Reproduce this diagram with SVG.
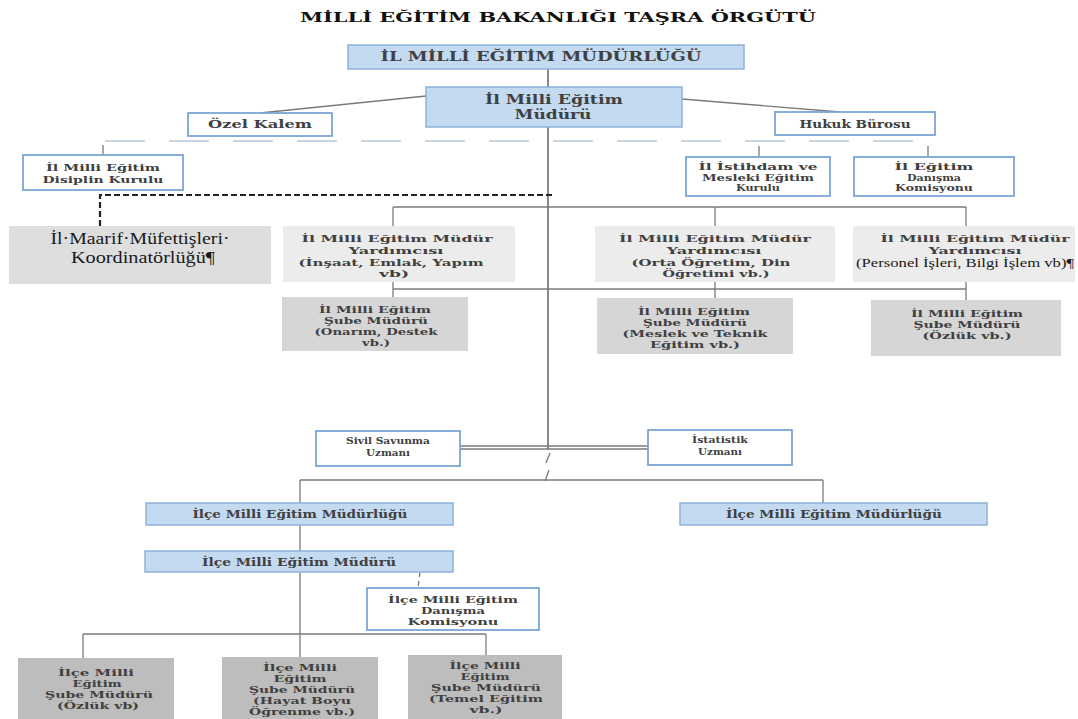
<svg xmlns="http://www.w3.org/2000/svg" width="1078" height="719" viewBox="0 0 1078 719">
<style>
text{font-family:"DejaVu Serif","Liberation Serif",serif;font-weight:bold;fill:#404040;text-anchor:middle}
.blue{fill:#c3daf0;stroke:#8db3da;stroke-width:1.5}
.wb{fill:#ffffff;stroke:#7aa6d6;stroke-width:1.8}
.ya{fill:#ececec}
.sb{fill:#d6d6d6}
.mf{fill:#dedede}
.ib{fill:#bdbdbd}
.ln{stroke:#7a7a7a;stroke-width:1.3;fill:none}
.tr{stroke:#555;stroke-width:1.4;fill:none}
.bd{stroke:#b4c8dc;stroke-width:1.6;fill:none;stroke-dasharray:40 24}
.hd{stroke:#222;stroke-width:2.2;fill:none;stroke-dasharray:6 3}
.tm{font-family:"Liberation Serif",serif;font-weight:normal;fill:#1a1a1a}
</style>
<rect width="1078" height="719" fill="#ffffff"/>
<text x="558" y="22" font-size="13" textLength="516" lengthAdjust="spacingAndGlyphs" style="fill:#111">MİLLİ EĞİTİM BAKANLIĞI TAŞRA ÖRGÜTÜ</text>

<g id="connectors">
<line class="tr" x1="548" y1="69" x2="548" y2="87"/>
<line class="tr" x1="548" y1="127" x2="548" y2="450"/>
<line class="ln" x1="260" y1="113" x2="426" y2="96"/>
<line class="ln" x1="682" y1="99" x2="840" y2="112"/>
<line class="bd" x1="105" y1="141" x2="930" y2="141"/>
<line class="ln" x1="103" y1="145" x2="103" y2="155" stroke="#b4c8dc"/>
<line class="ln" x1="759" y1="146" x2="759" y2="156" stroke="#b4c8dc"/>
<line class="ln" x1="928" y1="146" x2="928" y2="156" stroke="#b4c8dc"/>
<path class="hd" d="M552,195 H100 V226"/>
<line class="ln" x1="393" y1="207" x2="966" y2="207"/>
<line class="ln" x1="393" y1="207" x2="393" y2="226"/>
<line class="ln" x1="715" y1="207" x2="715" y2="226"/>
<line class="ln" x1="966" y1="207" x2="966" y2="226"/>
<line class="ln" x1="393" y1="289" x2="966" y2="289"/>
<line class="ln" x1="393" y1="282" x2="393" y2="297"/>
<line class="ln" x1="715" y1="282" x2="715" y2="298"/>
<line class="ln" x1="966" y1="282" x2="966" y2="300"/>
<line class="ln" x1="460" y1="446" x2="648" y2="446"/>
<line class="ln" x1="460" y1="449" x2="648" y2="449"/>
<line class="ln" x1="550" y1="453" x2="546" y2="463"/>
<line class="ln" x1="549" y1="470" x2="545" y2="481"/>
<line class="ln" x1="300" y1="480" x2="823" y2="480"/>
<line class="ln" x1="300" y1="480" x2="300" y2="503"/>
<line class="ln" x1="823" y1="480" x2="823" y2="503"/>
<line class="ln" x1="300" y1="525" x2="300" y2="551"/>
<line class="ln" x1="300" y1="572" x2="300" y2="657"/>
<line class="ln" x1="420" y1="572" x2="418" y2="588" stroke-dasharray="5 4"/>
<line class="ln" x1="83" y1="634" x2="486" y2="634"/>
<line class="ln" x1="83" y1="634" x2="83" y2="658"/>
<line class="ln" x1="486" y1="634" x2="486" y2="655"/>
</g>

<g id="il-mudurlugu">
<rect class="blue" x="348" y="45" width="396" height="24"/>
<text x="541" y="61" font-size="12" textLength="321" lengthAdjust="spacingAndGlyphs">İL MİLLİ EĞİTİM MÜDÜRLÜĞÜ</text>
</g>
<g id="il-muduru">
<rect class="blue" x="426" y="87" width="256" height="40"/>
<text x="554" y="104" font-size="12" textLength="138" lengthAdjust="spacingAndGlyphs">İl Milli Eğitim</text>
<text x="553" y="119" font-size="12" textLength="77" lengthAdjust="spacingAndGlyphs">Müdürü</text>
</g>
<g id="ozel-kalem">
<rect class="wb" x="188" y="113" width="144" height="23"/>
<text x="260" y="128" font-size="11" textLength="104" lengthAdjust="spacingAndGlyphs">Özel Kalem</text>
</g>
<g id="hukuk-burosu">
<rect class="wb" x="775" y="112" width="160" height="23"/>
<text x="855" y="128" font-size="11" textLength="111" lengthAdjust="spacingAndGlyphs">Hukuk Bürosu</text>
</g>
<g id="disiplin-kurulu">
<rect class="wb" x="23" y="155" width="160" height="35"/>
<text x="103" y="171" font-size="9.5" textLength="114" lengthAdjust="spacingAndGlyphs">İl Milli Eğitim</text>
<text x="103" y="183" font-size="9.5" textLength="121" lengthAdjust="spacingAndGlyphs">Disiplin Kurulu</text>
</g>
<g id="istihdam-kurulu">
<rect class="wb" x="686" y="157" width="144" height="39"/>
<text x="758" y="170" font-size="8.5" textLength="119" lengthAdjust="spacingAndGlyphs">İl İstihdam ve</text>
<text x="758" y="180.5" font-size="8.5" textLength="112" lengthAdjust="spacingAndGlyphs">Mesleki Eğitim</text>
<text x="758" y="191" font-size="8.5" textLength="44" lengthAdjust="spacingAndGlyphs">Kurulu</text>
</g>
<g id="il-danisma">
<rect class="wb" x="854" y="157" width="160" height="39"/>
<text x="934" y="170" font-size="8.5" textLength="79" lengthAdjust="spacingAndGlyphs">İl Eğitim</text>
<text x="934" y="180.5" font-size="8.5" textLength="54" lengthAdjust="spacingAndGlyphs">Danışma</text>
<text x="934" y="191" font-size="8.5" textLength="78" lengthAdjust="spacingAndGlyphs">Komisyonu</text>
</g>
<g id="maarif">
<rect class="mf" x="9" y="226" width="262" height="58"/>
<text class="tm" x="140" y="244" font-size="16" textLength="179" lengthAdjust="spacingAndGlyphs">İl·Maarif·Müfettişleri·</text>
<text class="tm" x="143" y="263" font-size="16" textLength="144" lengthAdjust="spacingAndGlyphs">Koordinatörlüğü¶</text>
</g>
<g id="yardimci-1">
<rect class="ya" x="283" y="226" width="232" height="56"/>
<text x="397" y="242" font-size="9.5" textLength="191" lengthAdjust="spacingAndGlyphs">İl Milli Eğitim Müdür</text>
<text x="396" y="254" font-size="9.5" textLength="95" lengthAdjust="spacingAndGlyphs">Yardımcısı</text>
<text x="391" y="265.5" font-size="9.5" textLength="185" lengthAdjust="spacingAndGlyphs">(İnşaat, Emlak, Yapım</text>
<text x="394" y="277" font-size="9.5" textLength="30" lengthAdjust="spacingAndGlyphs">vb)</text>
</g>
<g id="yardimci-2">
<rect class="ya" x="595" y="226" width="240" height="56"/>
<text x="715" y="242" font-size="9.5" textLength="192" lengthAdjust="spacingAndGlyphs">İl Milli Eğitim Müdür</text>
<text x="714" y="254" font-size="9.5" textLength="95" lengthAdjust="spacingAndGlyphs">Yardımcısı</text>
<text x="711" y="265.5" font-size="9.5" textLength="159" lengthAdjust="spacingAndGlyphs">(Orta Öğretim, Din</text>
<text x="716" y="277" font-size="9.5" textLength="107" lengthAdjust="spacingAndGlyphs">Öğretimi vb.)</text>
</g>
<g id="yardimci-3">
<rect class="ya" x="853" y="226" width="222" height="56"/>
<text x="975" y="242" font-size="9.5" textLength="189" lengthAdjust="spacingAndGlyphs">İl Milli Eğitim Müdür</text>
<text x="975" y="254" font-size="9.5" textLength="93" lengthAdjust="spacingAndGlyphs">Yardımcısı</text>
<text class="tm" x="965" y="267" font-size="12" textLength="218" lengthAdjust="spacingAndGlyphs">(Personel İşleri, Bilgi İşlem vb)¶</text>
</g>
<g id="sube-1">
<rect class="sb" x="282" y="297" width="186" height="54"/>
<text x="375" y="313" font-size="9" textLength="112" lengthAdjust="spacingAndGlyphs">İl Milli Eğitim</text>
<text x="376" y="324" font-size="9" textLength="104" lengthAdjust="spacingAndGlyphs">Şube Müdürü</text>
<text x="376" y="335" font-size="9" textLength="123" lengthAdjust="spacingAndGlyphs">(Onarım, Destek</text>
<text x="376" y="346" font-size="9" textLength="28" lengthAdjust="spacingAndGlyphs">vb.)</text>
</g>
<g id="sube-2">
<rect class="sb" x="597" y="298" width="196" height="56"/>
<text x="694" y="315" font-size="9" textLength="112" lengthAdjust="spacingAndGlyphs">İl Milli Eğitim</text>
<text x="695" y="326" font-size="9" textLength="104" lengthAdjust="spacingAndGlyphs">Şube Müdürü</text>
<text x="695" y="337" font-size="9" textLength="145" lengthAdjust="spacingAndGlyphs">(Meslek ve Teknik</text>
<text x="695" y="348" font-size="9" textLength="90" lengthAdjust="spacingAndGlyphs">Eğitim vb.)</text>
</g>
<g id="sube-3">
<rect class="sb" x="871" y="300" width="190" height="56"/>
<text x="967" y="317" font-size="9" textLength="112" lengthAdjust="spacingAndGlyphs">İl Milli Eğitim</text>
<text x="967" y="328" font-size="9" textLength="107" lengthAdjust="spacingAndGlyphs">Şube Müdürü</text>
<text x="967" y="339" font-size="9" textLength="89" lengthAdjust="spacingAndGlyphs">(Özlük vb.)</text>
</g>
<g id="sivil-savunma">
<rect class="wb" x="316" y="431" width="144" height="35"/>
<text x="388" y="444" font-size="8.5" textLength="84" lengthAdjust="spacingAndGlyphs">Sivil Savunma</text>
<text x="388" y="456" font-size="8.5" textLength="44" lengthAdjust="spacingAndGlyphs">Uzmanı</text>
</g>
<g id="istatistik">
<rect class="wb" x="648" y="430" width="144" height="35"/>
<text x="720" y="443" font-size="8.5" textLength="56" lengthAdjust="spacingAndGlyphs">İstatistik</text>
<text x="720" y="455" font-size="8.5" textLength="44" lengthAdjust="spacingAndGlyphs">Uzmanı</text>
</g>
<g id="ilce-mudurlugu-1">
<rect class="blue" x="146" y="503" width="307" height="22"/>
<text x="300" y="518" font-size="10.5" textLength="215" lengthAdjust="spacingAndGlyphs">İlçe Milli Eğitim Müdürlüğü</text>
</g>
<g id="ilce-mudurlugu-2">
<rect class="blue" x="680" y="503" width="307" height="22"/>
<text x="834" y="518" font-size="10.5" textLength="216" lengthAdjust="spacingAndGlyphs">İlçe Milli Eğitim Müdürlüğü</text>
</g>
<g id="ilce-muduru">
<rect class="blue" x="145" y="551" width="308" height="21"/>
<text x="299" y="566" font-size="10.5" textLength="194" lengthAdjust="spacingAndGlyphs">İlçe Milli Eğitim Müdürü</text>
</g>
<g id="ilce-danisma">
<rect class="wb" x="367" y="588" width="172" height="42"/>
<text x="453" y="603" font-size="9.5" textLength="130" lengthAdjust="spacingAndGlyphs">İlçe Milli Eğitim</text>
<text x="453" y="614" font-size="9.5" textLength="64" lengthAdjust="spacingAndGlyphs">Danışma</text>
<text x="453" y="625" font-size="9.5" textLength="91" lengthAdjust="spacingAndGlyphs">Komisyonu</text>
</g>
<g id="ilce-sube-1">
<rect class="ib" x="18" y="658" width="156" height="61"/>
<text x="96" y="676" font-size="9" textLength="76" lengthAdjust="spacingAndGlyphs">İlçe Milli</text>
<text x="97" y="687" font-size="9" textLength="49" lengthAdjust="spacingAndGlyphs">Eğitim</text>
<text x="99" y="698" font-size="9" textLength="108" lengthAdjust="spacingAndGlyphs">Şube Müdürü</text>
<text x="98" y="709" font-size="9" textLength="82" lengthAdjust="spacingAndGlyphs">(Özlük vb)</text>
</g>
<g id="ilce-sube-2">
<rect class="ib" x="222" y="657" width="156" height="62"/>
<text x="300" y="671" font-size="9" textLength="74" lengthAdjust="spacingAndGlyphs">İlçe Milli</text>
<text x="300" y="682" font-size="9" textLength="53" lengthAdjust="spacingAndGlyphs">Eğitim</text>
<text x="302" y="693" font-size="9" textLength="106" lengthAdjust="spacingAndGlyphs">Şube Müdürü</text>
<text x="302" y="704" font-size="9" textLength="98" lengthAdjust="spacingAndGlyphs">(Hayat Boyu</text>
<text x="302" y="715" font-size="9" textLength="106" lengthAdjust="spacingAndGlyphs">Öğrenme vb.)</text>
</g>
<g id="ilce-sube-3">
<rect class="ib" x="408" y="655" width="154" height="64"/>
<text x="485" y="669" font-size="9" textLength="71" lengthAdjust="spacingAndGlyphs">İlçe Milli</text>
<text x="485" y="680" font-size="9" textLength="49" lengthAdjust="spacingAndGlyphs">Eğitim</text>
<text x="486" y="691" font-size="9" textLength="110" lengthAdjust="spacingAndGlyphs">Şube Müdürü</text>
<text x="486" y="702" font-size="9" textLength="114" lengthAdjust="spacingAndGlyphs">(Temel Eğitim</text>
<text x="486" y="713" font-size="9" textLength="33" lengthAdjust="spacingAndGlyphs">vb.)</text>
</g>
</svg>
